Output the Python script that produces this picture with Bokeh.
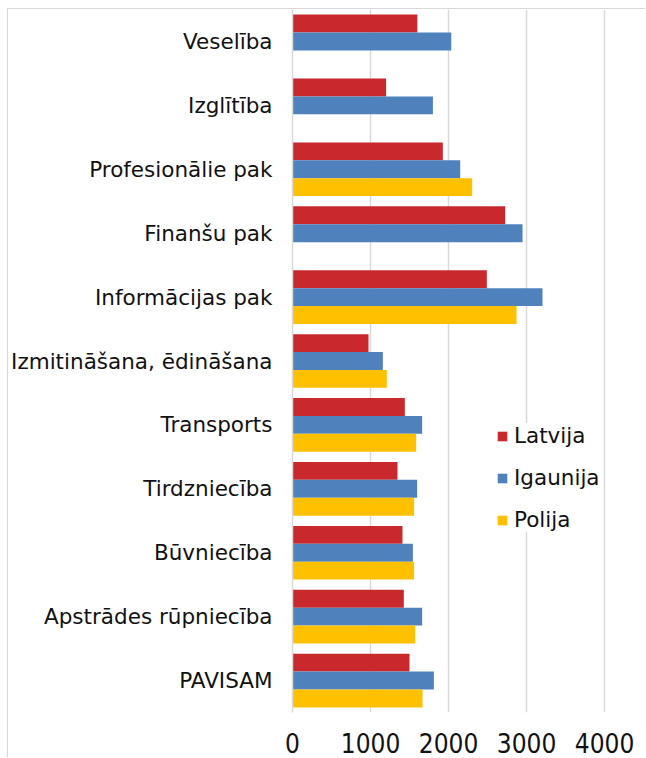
from bokeh.plotting import figure
from bokeh.models import (ColumnDataSource, FactorRange, Range1d, FixedTicker,
                          Legend, LegendItem)
from bokeh.transform import dodge
from bokeh.embed import file_html
from bokeh.resources import INLINE

# Categories (bottom to top)
categories = ["PAVISAM", "Apstrādes rūpniecība", "Būvniecība", "Tirdzniecība",
              "Transports", "Izmitināšana, ēdināšana", "Informācijas pak",
              "Finanšu pak", "Profesionālie pak", "Izglītība", "Veselība"]

latvija = [1500, 1427, 1410, 1346, 1440, 974, 2491, 2726, 1927, 1200, 1600]
igaunija = [1812, 1662, 1543, 1598, 1662, 1158, 3205, 2949, 2150, 1800, 2035]
polija = [1667, 1573, 1559, 1559, 1585, 1209, 2872, None, 2303, None, None]

series_names = ["Latvija", "Igaunija", "Polija"]
series_values = [latvija, igaunija, polija]
series_colors = ["#C9282D", "#4F81BD", "#FFC000"]
series_offsets = [0.28, 0.0, -0.28]

x_ticks = [0, 1000, 2000, 3000, 4000]

FONT = "DejaVu Sans"

p = figure(width=638, height=749,
           y_range=FactorRange(factors=categories, range_padding=0),
           x_range=Range1d(0, 4538),
           output_backend="svg", toolbar_location=None,
           min_border_left=284, min_border_right=0,
           min_border_top=0, min_border_bottom=46)

# chart-area border: left and top edges
p.styles = {"margin-left": "7px", "margin-top": "8px",
            "border-left": "1.5px solid #d9d9d9",
            "border-top": "1.5px solid #d9d9d9"}

p.outline_line_color = None
p.background_fill_color = "white"
p.border_fill_color = "white"

p.ygrid.grid_line_color = None
p.xgrid.grid_line_color = "#d9d9d9"
p.xgrid.grid_line_width = 1.5
p.xaxis.ticker = FixedTicker(ticks=x_ticks)

p.xaxis.axis_line_color = None
p.xaxis.major_tick_line_color = None
p.xaxis.minor_tick_line_color = None
p.xaxis.major_label_text_font = "DejaVu Sans Condensed, DejaVu Sans"
p.xaxis.major_label_text_font_size = "26px"
p.xaxis.major_label_text_color = "#111111"
p.xaxis.major_label_standoff = 14

p.yaxis.axis_line_color = "#d9d9d9"
p.yaxis.axis_line_width = 1.5
p.yaxis.major_tick_line_color = None
p.yaxis.minor_tick_line_color = None
p.yaxis.major_label_text_font = FONT
p.yaxis.major_label_text_font_size = "21.5px"
p.yaxis.major_label_text_color = "#111111"
p.yaxis.major_label_standoff = 14

items = []
for name, vals, color, off in zip(series_names, series_values, series_colors, series_offsets):
    cats = [c for c, v in zip(categories, vals) if v is not None]
    vv = [v for v in vals if v is not None]
    src = ColumnDataSource(dict(cat=cats, val=vv))
    r = p.hbar(y=dodge("cat", off, range=p.y_range), right="val", left=0,
               height=0.28, source=src, fill_color=color, line_color=None)
    items.append(LegendItem(label=name, renderers=[r]))

legend = Legend(items=items, location=(204, 180))
legend.label_text_font = FONT
legend.label_text_font_size = "21.5px"
legend.label_text_color = "#111111"
legend.glyph_width = 12
legend.glyph_height = 12
legend.label_standoff = 6
legend.spacing = 17
legend.padding = 10
legend.margin = 0
legend.border_line_color = None
legend.background_fill_color = "white"
legend.background_fill_alpha = 1.0
p.add_layout(legend)

open("out.html", "w").write(file_html(p, INLINE))
